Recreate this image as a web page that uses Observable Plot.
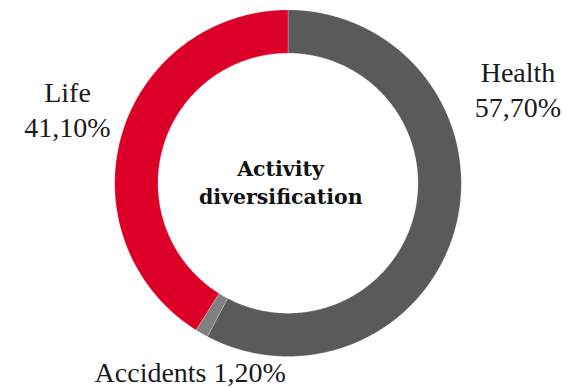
<!DOCTYPE html>
<html>
<head>
<meta charset="utf-8">
<script src="https://cdn.jsdelivr.net/npm/d3@7"></script>
<script src="https://cdn.jsdelivr.net/npm/@observablehq/plot@0.6"></script>
<style>
  html, body { margin: 0; padding: 0; background: #fff; }
</style>
</head>
<body>
<div id="chart"></div>
<script>
// Data
const categories = ["Health", "Accidents", "Life"];
const shares = [57.7, 1.2, 41.1];
const valueLabels = ["57,70%", "1,20%", "41,10%"];
const colors = ["#5a5a5a", "#808080", "#dc0028"];
const centerTitle = ["Activity", "diversification"];

// Layout (pixels)
const W = 574, H = 388;
const cx = 287.5, cy = 182.7, rOuter = 173.3, rInner = 130;

const pie = d3.pie().sort(null).value(d => d.value)(
  categories.map((name, i) => ({name, value: shares[i]}))
);

// Ring polygons built from pie angles
const ring = [];
for (const s of pie) {
  const n = Math.max(2, Math.ceil((s.endAngle - s.startAngle) / 0.005));
  const pts = [];
  for (let k = 0; k <= n; k++) {
    const a = s.startAngle + (s.endAngle - s.startAngle) * k / n;
    pts.push({name: s.data.name, x: cx + rOuter * Math.sin(a), y: cy - rOuter * Math.cos(a)});
  }
  for (let k = n; k >= 0; k--) {
    const a = s.startAngle + (s.endAngle - s.startAngle) * k / n;
    pts.push({name: s.data.name, x: cx + rInner * Math.sin(a), y: cy - rInner * Math.cos(a)});
  }
  pts.push({...pts[0]});
  ring.push(...pts);
}

// Label placement (pixels, baseline)
const labelPos = {
  Health: {x: 517.5, y1: 81.7, y2: 116},
  Life: {x: 67, y1: 101.7, y2: 136},
  Accidents: {x: 189.7, y1: 381.7}
};
const labels = [];
categories.forEach((name, i) => {
  const p = labelPos[name];
  if (p.y2 !== undefined) {
    labels.push({x: p.x, y: p.y1, text: name});
    labels.push({x: p.x, y: p.y2, text: valueLabels[i]});
  } else {
    labels.push({x: p.x, y: p.y1, text: name + " " + valueLabels[i]});
  }
});
const titleRows = [
  {x: 280, y: 175, text: centerTitle[0]},
  {x: 280.3, y: 203.3, text: centerTitle[1]}
];

const chart = Plot.plot({
  width: W,
  height: H,
  margin: 0,
  x: {domain: [0, W], range: [0, W], axis: null},
  y: {domain: [0, H], range: [0, H], axis: null},
  color: {domain: categories, range: colors},
  style: {background: "#fff"},
  marks: [
    Plot.line(ring, {x: "x", y: "y", z: "name", fill: "name", stroke: "#ffffff", strokeWidth: 0.4, strokeOpacity: 0.6, curve: "linear"}),
    Plot.text(labels, {x: "x", y: "y", text: "text", textAnchor: "middle", lineAnchor: "bottom",
      fontFamily: "Liberation Serif", fontSize: 28, fill: "#1a1a1a"}),
    Plot.text(titleRows, {x: "x", y: "y", text: "text", textAnchor: "middle", lineAnchor: "bottom",
      fontFamily: "DejaVu Serif", fontWeight: "bold", fontSize: 20.5, fill: "#111"})
  ]
});
document.getElementById("chart").appendChild(chart);
</script>
</body>
</html>
